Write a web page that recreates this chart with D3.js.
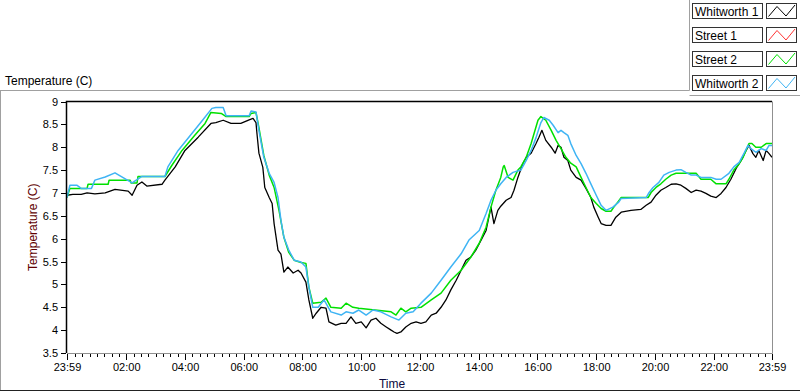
<!DOCTYPE html>
<html>
<head>
<meta charset="utf-8">
<script src="https://cdn.jsdelivr.net/npm/d3@7"></script>
<style>
body { margin: 0; background: #fff; }
svg { font-family: "Liberation Sans", Arial, sans-serif; display: block; }
</style>
</head>
<body>
<svg id="chart" width="800" height="392"></svg>
<script>
// minutes after 23:59 start, temperature (C)
var whitworth1 = [[0,6.95],[12,6.97],[29,6.97],[41,7.0],[57,6.98],[78,7.0],[98,7.08],[125,7.04],[133,6.95],[143,7.17],[153,7.24],[163,7.15],[194,7.19],[200,7.28],[221,7.57],[241,7.93],[268,8.22],[294,8.52],[304,8.54],[319,8.59],[335,8.52],[355,8.52],[372,8.6],[380,8.63],[386,8.54],[388,8.3],[392,7.87],[400,7.56],[404,7.12],[413,6.9],[419,6.77],[423,6.33],[431,5.75],[437,5.66],[443,5.27],[451,5.38],[462,5.25],[472,5.31],[478,5.25],[488,5.05],[494,4.66],[502,4.26],[509,4.37],[519,4.5],[529,4.48],[535,4.18],[549,4.11],[560,4.15],[570,4.15],[580,4.29],[590,4.15],[601,4.18],[611,4.05],[621,4.22],[631,4.26],[641,4.15],[652,4.07],[662,4.0],[668,3.96],[674,3.93],[682,3.96],[692,4.07],[703,4.15],[713,4.18],[723,4.15],[733,4.18],[744,4.33],[754,4.37],[764,4.5],[774,4.66],[784,4.88],[795,5.09],[805,5.31],[815,5.53],[825,5.6],[835,5.75],[846,5.97],[856,6.18],[866,6.69],[872,6.33],[880,6.62],[886,6.71],[897,6.84],[907,6.9],[913,7.06],[921,7.34],[931,7.64],[938,7.78],[948,7.87],[958,8.08],[964,8.22],[970,8.37],[978,8.15],[989,8.0],[997,7.87],[1003,8.04],[1009,8.0],[1015,7.78],[1023,7.71],[1029,7.5],[1040,7.34],[1050,7.28],[1060,7.1],[1070,6.9],[1076,6.69],[1085,6.47],[1091,6.33],[1101,6.29],[1111,6.29],[1121,6.47],[1132,6.58],[1152,6.62],[1172,6.64],[1183,6.73],[1193,6.8],[1203,6.95],[1213,7.06],[1223,7.12],[1234,7.19],[1244,7.2],[1254,7.17],[1264,7.1],[1275,7.01],[1285,7.06],[1295,7.04],[1305,6.99],[1315,6.93],[1326,6.9],[1336,6.99],[1346,7.12],[1356,7.3],[1367,7.54],[1377,7.71],[1387,7.93],[1393,8.04],[1401,7.86],[1407,7.78],[1413,7.93],[1422,7.71],[1428,7.93],[1434,7.86],[1440,7.78]];

var street1 = [];

var street2 = [[0,6.9],[6,7.1],[41,7.1],[43,7.19],[84,7.19],[86,7.28],[129,7.28],[131,7.22],[143,7.22],[145,7.36],[200,7.36],[214,7.6],[235,7.93],[261,8.26],[282,8.52],[294,8.76],[315,8.74],[325,8.67],[372,8.67],[376,8.74],[386,8.76],[392,8.43],[402,7.82],[413,7.39],[423,7.12],[433,6.62],[443,6.03],[453,5.7],[464,5.53],[478,5.48],[488,5.46],[494,4.94],[502,4.59],[519,4.61],[529,4.7],[539,4.5],[560,4.48],[570,4.59],[584,4.5],[596,4.48],[662,4.4],[672,4.33],[682,4.48],[692,4.4],[703,4.48],[723,4.5],[744,4.66],[764,4.81],[784,5.09],[805,5.31],[825,5.6],[842,5.9],[856,6.25],[866,6.69],[876,7.06],[886,7.34],[891,7.57],[893,7.6],[901,7.34],[911,7.28],[921,7.5],[927,7.57],[938,7.78],[948,8.08],[954,8.3],[962,8.59],[968,8.67],[978,8.59],[989,8.37],[999,8.15],[1009,7.97],[1019,7.78],[1029,7.65],[1040,7.57],[1050,7.34],[1060,7.12],[1070,6.9],[1081,6.77],[1091,6.66],[1101,6.6],[1111,6.6],[1117,6.69],[1125,6.8],[1132,6.9],[1187,6.9],[1193,7.01],[1203,7.12],[1213,7.2],[1223,7.3],[1234,7.39],[1244,7.43],[1285,7.43],[1295,7.3],[1315,7.3],[1326,7.2],[1346,7.2],[1352,7.3],[1362,7.5],[1373,7.64],[1381,7.78],[1387,7.93],[1393,8.08],[1399,8.08],[1407,8.0],[1418,8.0],[1428,8.08],[1440,8.08]];

var whitworth2 = [[0,6.9],[6,7.17],[20,7.17],[29,7.1],[50,7.1],[57,7.28],[78,7.35],[98,7.44],[112,7.35],[133,7.22],[153,7.36],[200,7.36],[206,7.57],[227,7.93],[255,8.3],[276,8.58],[296,8.85],[304,8.87],[319,8.87],[325,8.69],[372,8.69],[376,8.79],[386,8.77],[392,8.37],[402,7.78],[413,7.43],[423,7.23],[431,6.9],[437,6.4],[443,6.03],[453,5.75],[464,5.53],[478,5.49],[488,5.38],[494,4.94],[502,4.5],[513,4.5],[525,4.66],[539,4.4],[560,4.33],[570,4.4],[584,4.37],[596,4.44],[611,4.33],[625,4.44],[641,4.4],[662,4.29],[678,4.22],[692,4.37],[707,4.4],[723,4.59],[744,4.81],[764,5.09],[784,5.38],[805,5.67],[821,5.97],[842,6.18],[856,6.55],[866,6.84],[876,7.06],[886,7.2],[897,7.34],[911,7.45],[927,7.5],[938,7.71],[948,7.93],[958,8.21],[968,8.54],[974,8.65],[985,8.59],[993,8.48],[1003,8.32],[1009,8.37],[1015,8.32],[1023,8.26],[1029,8.08],[1040,7.82],[1050,7.64],[1060,7.43],[1070,7.2],[1081,6.95],[1091,6.73],[1101,6.62],[1115,6.69],[1127,6.8],[1132,6.88],[1183,6.9],[1189,7.01],[1197,7.12],[1209,7.23],[1219,7.39],[1230,7.45],[1244,7.5],[1254,7.51],[1264,7.45],[1275,7.39],[1285,7.39],[1295,7.34],[1315,7.34],[1326,7.3],[1336,7.3],[1352,7.43],[1362,7.57],[1373,7.67],[1383,7.87],[1391,8.04],[1397,7.97],[1407,7.89],[1418,7.97],[1428,7.93],[1434,8.04],[1440,8.04]];

var seriesNames = ["Whitworth 1", "Street 1", "Street 2", "Whitworth 2"];
var seriesColors = ["#000000", "#ff3333", "#00e000", "#3fb4f4"];
var seriesData = [whitworth1, street1, street2, whitworth2];

var yTicks = [3.5, 4, 4.5, 5, 5.5, 6, 6.5, 7, 7.5, 8, 8.5, 9];
var xTickHours = [2, 4, 6, 8, 10, 12, 14, 16, 18, 20, 22];

var startTime = new Date(2000, 0, 1, 23, 59);
var endTime = d3.timeMinute.offset(startTime, 1440);
var toTime = function(m) { return d3.timeMinute.offset(startTime, m); };

var svg = d3.select("#chart");

var plotLeft = 67, plotRight = 772, plotTop = 101.5, plotBottom = 353;

var x = d3.scaleTime().domain([startTime, endTime]).range([plotLeft, plotRight]);
var y = d3.scaleLinear().domain([3.5, 9]).range([plotBottom, plotTop]);

////////// outer frame //////////

svg.append("text")
    .attr("x", 5).attr("y", 85)
    .attr("font-size", 12)
    .text("Temperature (C)");

var frame = svg.append("g").attr("fill", "none");
frame.append("path").attr("d", "M0,90.5H689.5V0").attr("stroke", "#a0a0a0");
frame.append("path").attr("d", "M689.5,95.5H800").attr("stroke", "#a0a0a0");
frame.append("path").attr("d", "M0.5,90V391").attr("stroke", "#a0a0a0");
frame.append("path").attr("d", "M0,390.5H800").attr("stroke", "#222");

////////// legend //////////

var legend = svg.append("g").attr("class", "legend");
seriesNames.forEach(function(name, i) {
    var ty = 3.5 + i * 24;
    legend.append("rect")
        .attr("x", 692.5).attr("y", ty).attr("width", 70).attr("height", 15)
        .attr("fill", "#fff").attr("stroke", "#333");
    legend.append("text")
        .attr("x", 695).attr("y", ty + 12)
        .attr("font-size", 12)
        .text(name);
    legend.append("rect")
        .attr("x", 766.5).attr("y", ty).attr("width", 30).attr("height", 15)
        .attr("fill", "#fff").attr("stroke", "#333");
    legend.append("path")
        .attr("d", "M" + 768.5 + "," + (ty + 13) + "L777," + (ty + 3) + "L786," + (ty + 12.5) + "L795," + (ty + 1.5))
        .attr("fill", "none")
        .attr("stroke", seriesColors[i]);
});

////////// axes //////////

var majorTicks = [startTime].concat(xTickHours.map(function(h) {
    return new Date(2000, 0, 2, h, 0);
})).concat([endTime]);

var minorTicks = d3.timeMinute.every(15).range(startTime, endTime).filter(function(t) {
    return t.getMinutes() !== 0 || t.getHours() % 2 !== 0;
}).filter(function(t) {
    return Math.abs(x(t) - x(startTime)) > 2;
});

var xMinor = svg.append("g")
    .attr("transform", "translate(0," + (plotBottom + 1) + ")")
    .call(d3.axisBottom(x).tickValues(minorTicks).tickSize(3).tickFormat(""));
xMinor.select(".domain").remove();

var xAxis = svg.append("g")
    .attr("transform", "translate(0," + (plotBottom + 1) + ")")
    .call(d3.axisBottom(x).tickValues(majorTicks).tickSize(6).tickPadding(3).tickFormat(d3.timeFormat("%H:%M")));
xAxis.select(".domain").remove();
xAxis.selectAll("text")
    .attr("font-family", "Liberation Sans, Arial, sans-serif")
    .attr("font-size", 11)
    .attr("fill", "#000");

var yAxis = svg.append("g")
    .attr("transform", "translate(" + (plotLeft - 1) + ",0)")
    .call(d3.axisLeft(y).tickValues(yTicks).tickSize(5).tickPadding(3).tickFormat(d3.format("")));
yAxis.select(".domain").remove();
yAxis.selectAll("text")
    .attr("font-family", "Liberation Sans, Arial, sans-serif")
    .attr("font-size", 11)
    .attr("fill", "#000");

svg.selectAll(".tick line").attr("stroke", "#000").attr("shape-rendering", "crispEdges");

svg.append("text")
    .attr("x", 392).attr("y", 388)
    .attr("text-anchor", "middle")
    .attr("font-size", 12)
    .attr("fill", "#0a0a40")
    .text("Time");

svg.append("text")
    .attr("transform", "translate(37," + ((plotTop + plotBottom) / 2) + ") rotate(-90)")
    .attr("text-anchor", "middle")
    .attr("font-size", 12)
    .attr("fill", "#600000")
    .text("Temperature (C)");

////////// plot //////////

var plot = svg.append("g").attr("class", "plot");

plot.append("defs").append("clipPath").attr("id", "clip")
    .append("rect").attr("x", plotLeft).attr("y", plotTop).attr("width", plotRight - plotLeft).attr("height", plotBottom - plotTop);

var line = d3.line()
    .x(function(d) { return x(toTime(d[0])); })
    .y(function(d) { return y(d[1]); });

seriesData.forEach(function(data, i) {
    plot.append("path")
        .datum(data)
        .attr("clip-path", "url(#clip)")
        .attr("fill", "none")
        .attr("stroke", seriesColors[i])
        .attr("stroke-width", i === 0 ? 1.3 : 1.5)
        .attr("stroke-linejoin", "round")
        .attr("d", line);
});

// plot frame: dark top/left, grey bottom/right
plot.append("path").attr("d", "M" + (plotLeft - 0.5) + "," + plotBottom + "V" + plotTop + "H" + plotRight)
    .attr("fill", "none").attr("stroke", "#000").attr("stroke-width", 1.5);
plot.append("path").attr("d", "M" + plotLeft + "," + (plotBottom + 0.5) + "H" + (plotRight + 0.5) + "V" + plotTop)
    .attr("fill", "none").attr("stroke", "#909090");
</script>
</body>
</html>
